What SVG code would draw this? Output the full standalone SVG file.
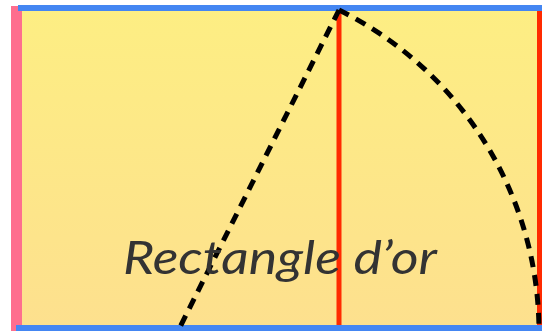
<svg xmlns="http://www.w3.org/2000/svg" width="542" height="331" viewBox="0 0 542 331">
<defs>
<linearGradient id="bg" x1="0" y1="0" x2="0" y2="1">
<stop offset="0" stop-color="#fdee83"/>
<stop offset="1" stop-color="#fde08e"/>
</linearGradient>
<style>
.dash{fill:none;stroke:#000;stroke-width:5;stroke-dasharray:11 8}
.red{stroke:#ff2a00;stroke-width:5}
.blue{fill:#4486f2}
.lbl{font-family:Lato,"Open Sans",sans-serif;font-style:italic;font-size:46px;fill:#333}
</style>
</defs>
<g id="rect">
<rect x="18" y="8" width="524" height="320" fill="url(#bg)"/>
<rect x="11" y="6" width="11" height="325" fill="#fe6e8e"/>
<rect class="blue" x="18" y="5" width="524" height="6"/>
<rect class="blue" x="16" y="325" width="526" height="6"/>
</g>
<g id="lines">
<line class="red" x1="339" y1="11" x2="339" y2="325"/>
<line class="red" x1="539.5" y1="11" x2="539.5" y2="325"/>
</g>
<g id="construction">
<line class="dash" x1="339" y1="10" x2="178" y2="331"/>
<path class="dash" d="M339,10 A359,359 0 0 1 539,331"/>
</g>
<text class="lbl" x="123" y="274" textLength="314" lengthAdjust="spacingAndGlyphs">Rectangle d’or</text>
</svg>
